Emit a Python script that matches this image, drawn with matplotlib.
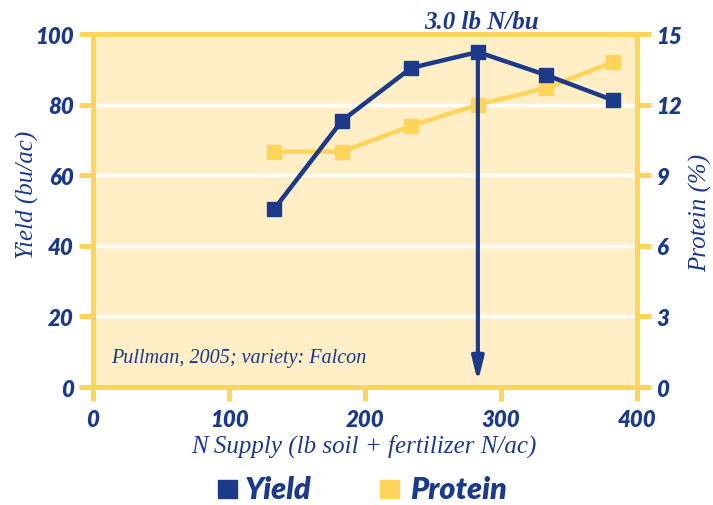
import matplotlib.pyplot as plt
from matplotlib.patches import Rectangle

# data
n_supply = [133, 183, 234, 283, 333, 382]
yield_bu = [50.3, 75.4, 90.4, 94.9, 88.4, 81.3]
protein_pct = [10.0, 10.0, 11.1, 12.0, 12.7, 13.8]

x_ticks = [0, 100, 200, 300, 400]
yield_ticks = [0, 20, 40, 60, 80, 100]
protein_ticks = [0, 3, 6, 9, 12, 15]
optimum_n = 283
optimum_label = '3.0 lb N/bu'
note = 'Pullman, 2005; variety: Falcon'

BLUE = '#1b3a8a'
YELLOW = '#ffd45a'
FILL = '#ffeec6'

sans = ['Lato', 'DejaVu Sans']
serif = ['Liberation Serif', 'DejaVu Serif']

fig = plt.figure(figsize=(7.13, 5.06), dpi=100)
ax = fig.add_axes([0.1304, 0.2332, 0.7630, 0.6976])
ax.set_facecolor(FILL)
ax.set_xlim(0, 400)
ax.set_ylim(0, 100)
ax.set_axisbelow(True)
ax.grid(axis='y', color='white', lw=2.5)
ax.grid(axis='x', visible=False)

for s in ax.spines.values():
    s.set_color(YELLOW)
    s.set_linewidth(3.6)

ax.set_xticks(x_ticks)
ax.set_yticks(yield_ticks)
ax.tick_params(axis='both', length=10, width=3.6, color=YELLOW,
               labelcolor=BLUE, labelsize=16)
ax.tick_params(axis='x', pad=6)
ax.tick_params(axis='y', pad=4)
for lab in ax.get_xticklabels() + ax.get_yticklabels():
    lab.set_family(sans)
    lab.set_fontweight('heavy')
    lab.set_fontstyle('italic')

ax2 = ax.twinx()
ax2.set_ylim(0, 15)
ax2.set_yticks(protein_ticks)
for s in ax2.spines.values():
    s.set_visible(False)
ax2.tick_params(axis='y', length=10, width=3.6, color=YELLOW, pad=4,
                labelcolor=BLUE, labelsize=16)
for lab in ax2.get_yticklabels():
    lab.set_family(sans)
    lab.set_fontweight('heavy')
    lab.set_fontstyle('italic')

ax2.plot(n_supply, protein_pct, color=YELLOW, lw=3.2, marker='s', ms=10,
         zorder=3)
ax2.plot(n_supply, [y * 0.15 for y in yield_bu], color=BLUE, lw=3.2,
         marker='s', ms=10, zorder=4)

opt_yield = yield_bu[n_supply.index(optimum_n)] * 0.15
ax2.annotate('', xy=(optimum_n, 0.1), xytext=(optimum_n, opt_yield),
             arrowprops=dict(arrowstyle='-|>,head_length=1.4,head_width=0.35',
                             color=BLUE, lw=3), zorder=5)
ax2.text(optimum_n + 3, 15.05, optimum_label, ha='center', va='bottom',
         color=BLUE, fontsize=18, fontweight='bold', fontstyle='italic',
         family=serif)

ax.text(13, 7.0, note, color=BLUE, fontsize=14.5, fontstyle='italic',
        family=serif)

fig.text(0.51, 0.1186, 'N Supply (lb soil + fertilizer N/ac)', color=BLUE,
         fontsize=18, fontstyle='italic', family=serif,
         ha='center', va='center')
fig.text(0.039, 0.6146, 'Yield (bu/ac)', color=BLUE, fontsize=18,
         fontstyle='italic', family=serif, rotation=90,
         ha='center', va='center')
fig.text(0.982, 0.579, 'Protein (%)', color=BLUE, fontsize=18,
         fontstyle='italic', family=serif, rotation=90,
         ha='center', va='center')

# legend
fig.patches.append(Rectangle((0.3058, 0.0138), 0.0267, 0.0356,
                             transform=fig.transFigure, color=BLUE))
fig.text(0.3436, 0.0316, 'Yield', color=BLUE, fontsize=22, fontweight='heavy',
         fontstyle='italic', family=sans, va='center')
fig.patches.append(Rectangle((0.533, 0.0138), 0.0267, 0.0356,
                             transform=fig.transFigure, color=YELLOW))
fig.text(0.575, 0.0316, 'Protein', color=BLUE, fontsize=22, fontweight='heavy',
         fontstyle='italic', family=sans, va='center')

fig.savefig('out.png', dpi=100)
